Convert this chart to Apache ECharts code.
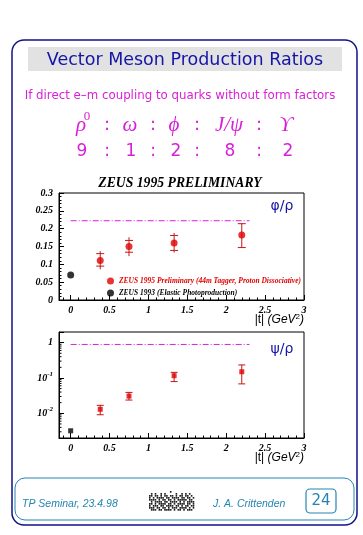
<!DOCTYPE html>
<html><head><meta charset="utf-8">
<script src="https://cdn.jsdelivr.net/npm/echarts@6/dist/echarts.min.js"></script>
<style>html,body{margin:0;padding:0;background:#fff}#c{width:363px;height:535px}</style>
</head><body><div id="c"></div>
<script>
// ---- data ----
const mesons = ['ρ', 'ω', 'ϕ', 'J/ψ', 'ϒ'];
const couplingRatios = [9, 1, 2, 8, 2];
const tValues = [0.38, 0.75, 1.33, 2.2];
const phiRho = [0.111, 0.150, 0.160, 0.182];
const phiRhoStatLo = [0.095, 0.134, 0.139, 0.147];
const phiRhoStatHi = [0.130, 0.167, 0.181, 0.214];
const phiRhoTotLo = [0.086, 0.123, 0.133, 0.147];
const phiRhoTotHi = [0.137, 0.176, 0.188, 0.214];
const t1993 = [0];
const phiRho1993 = [0.070];
const psiRho = [0.0130, 0.0307, 0.116, 0.150];
const psiRhoLo = [0.0091, 0.0237, 0.079, 0.068];
const psiRhoHi = [0.0168, 0.039, 0.144, 0.234];
const psiRho1993 = [0.0032];
const theoryT = [0, 2.3];
const phiRhoTheory = couplingRatios[2] / couplingRatios[0];
const psiRhoTheory = couplingRatios[3] / couplingRatios[0];
const legendNames = ['ZEUS 1995 Preliminary (44m Tagger, Proton Dissociative)', 'ZEUS 1993 (Elastic Photoproduction)'];
// log-axis minor tick multipliers and decades (axis decoration)
const logMinorMult = [2, 3, 4, 5, 6, 7, 8, 9];
const logDecades = [0.001, 0.01, 0.1, 1];

const RED = '#e00000', ERR = '#c01818', MAG = '#d820d8', BLUE = '#1414a8', TEAL = '#2585b0', NAVY = '#12128a';
const axFont = {fontFamily: 'Liberation Serif', fontStyle: 'italic', fontWeight: 'bold', fontSize: 10, color: '#000'};

function errBars(capsOnly) {
  return function (params, api) {
    const x = api.value(0);
    const a = api.coord([x, api.value(1)]), b = api.coord([x, api.value(2)]);
    const c = api.coord([x, api.value(3)]), d = api.coord([x, api.value(4)]);
    const w = capsOnly ? 3.5 : 4;
    const st = {stroke: ERR, lineWidth: 1};
    return {type: 'group', children: [
      {type: 'line', shape: {x1: a[0], y1: a[1], x2: b[0], y2: b[1]}, style: st},
      {type: 'line', shape: {x1: c[0] - w, y1: c[1], x2: c[0] + w, y2: c[1]}, style: st},
      {type: 'line', shape: {x1: d[0] - w, y1: d[1], x2: d[0] + w, y2: d[1]}, style: st}
    ]};
  };
}

function logMinor(params, api) {
  const v = api.value(0);
  if (v <= 0.002 || v >= 2) return null;
  const p = api.coord([-0.15, v]);
  return {type: 'line', shape: {x1: p[0], y1: p[1], x2: p[0] + 2.5, y2: p[1]}, style: {stroke: '#000', lineWidth: 1}};
}

function xAx(gi) {
  return {
    type: 'value', gridIndex: gi, min: -0.15, max: 3,
    axisLine: {show: true, onZero: false, lineStyle: {color: '#000'}},
    axisTick: {show: true, inside: true, length: 5, lineStyle: {color: '#000'}},
    minorTick: {show: true, splitNumber: 5, length: 2.5, lineStyle: {color: '#000'}},
    splitLine: {show: false},
    axisLabel: Object.assign({margin: 5, formatter: v => v < -0.01 ? '' : String(v)}, axFont)
  };
}

const grid1 = {left: 59, top: 193, width: 245, height: 107, show: true, borderColor: '#000', borderWidth: 1};
const grid2 = {left: 59, top: 332, width: 245, height: 106, show: true, borderColor: '#000', borderWidth: 1};

// barcode-like logo pattern
const logoRows = [
  '000000000001000000000000',
  '010100101000001001010100',
  '110110101101101011011010',
  '101011110110111101101101',
  '111101011011010111110110',
  '010111101101111010101111',
  '110101111011010111101101',
  '101110110111101101011011',
  '111011011010111011110101',
  '011101101111010110101110'
];
const logoRects = [];
logoRows.forEach((row, r) => row.split('').forEach((ch, c) => {
  if (ch === '1') logoRects.push({type: 'rect', shape: {x: 149 + c * 1.9, y: 491 + r * 2, width: 1.6, height: 1.7}, style: {fill: '#222'}});
}));

const greekX = [81, 130, 174, 229, 286];
const colonX = [107, 153, 197, 259];
const numX = [82, 131, 176, 230, 288];

const supRich = {
  n: {font: '12px "Liberation Sans"', fill: '#000'},
  i: {font: 'italic 12px "Liberation Sans"', fill: '#000'},
  s: {font: '8px "Liberation Sans"', fill: '#000', verticalAlign: 'top', padding: [0, 0, 6, 0]}
};

const graphics = [
  {type: 'rect', z: -10, shape: {x: 12, y: 40, width: 345, height: 485, r: 12}, style: {fill: '#fff', stroke: NAVY, lineWidth: 1.5}},
  {type: 'rect', z: -5, shape: {x: 28, y: 47, width: 314, height: 24}, style: {fill: '#e2e2e2'}},
  {type: 'text', x: 185, y: 60, style: {text: 'Vector Meson Production Ratios', fill: BLUE, font: '17.5px "DejaVu Sans"', align: 'center', verticalAlign: 'middle'}},
  {type: 'text', x: 180, y: 96, style: {text: 'If direct e–m coupling to quarks without form factors', fill: MAG, font: '11.8px "DejaVu Sans"', align: 'center', verticalAlign: 'middle'}},
  {type: 'text', x: 87, y: 117, style: {text: '0', fill: MAG, font: '13px "Liberation Serif"', align: 'center', verticalAlign: 'middle'}},
  {type: 'text', x: 180, y: 183, style: {text: 'ZEUS 1995 PRELIMINARY', fill: '#000', font: 'italic bold 13.7px "Liberation Serif"', align: 'center', verticalAlign: 'middle'}},
  {type: 'text', x: 282, y: 206, style: {text: 'φ/ρ', fill: BLUE, font: '14px "DejaVu Sans"', align: 'center', verticalAlign: 'middle'}},
  {type: 'text', x: 282, y: 349, style: {text: 'ψ/ρ', fill: BLUE, font: '14px "DejaVu Sans"', align: 'center', verticalAlign: 'middle'}},
  {type: 'text', x: 304, y: 320, style: {text: '{n||t| }{i|(GeV}{s|2}{i|)}', align: 'right', verticalAlign: 'middle', rich: supRich}},
  {type: 'text', x: 304, y: 458, style: {text: '{n||t| }{i|(GeV}{s|2}{i|)}', align: 'right', verticalAlign: 'middle', rich: supRich}},
  {type: 'rect', shape: {x: 15, y: 478, width: 339, height: 42, r: 10}, style: {fill: 'none', stroke: TEAL, lineWidth: 1}},
  {type: 'text', x: 22, y: 504, style: {text: 'TP Seminar, 23.4.98', fill: TEAL, font: 'italic 10.5px "Liberation Sans"', align: 'left', verticalAlign: 'middle'}},
  {type: 'text', x: 213, y: 504, style: {text: 'J. A. Crittenden', fill: TEAL, font: 'italic 10.5px "Liberation Sans"', align: 'left', verticalAlign: 'middle'}},
  {type: 'rect', shape: {x: 306, y: 489, width: 30, height: 24, r: 4}, style: {fill: 'none', stroke: TEAL, lineWidth: 1.2}},
  {type: 'text', x: 321, y: 501, style: {text: '24', fill: TEAL, font: '15px "DejaVu Sans"', align: 'center', verticalAlign: 'middle'}},
  {type: 'group', children: logoRects}
];
mesons.forEach((m, i) => graphics.push({type: 'text', x: greekX[i], y: 125, style: {text: m, fill: MAG, font: 'italic 21px "Liberation Serif"', align: 'center', verticalAlign: 'middle'}}));
couplingRatios.forEach((n, i) => graphics.push({type: 'text', x: numX[i], y: 152, style: {text: String(n), fill: MAG, font: '17px "DejaVu Sans"', align: 'center', verticalAlign: 'middle'}}));
colonX.forEach(x => {
  graphics.push({type: 'text', x: x, y: 125, style: {text: ':', fill: MAG, font: '18px "DejaVu Sans"', align: 'center', verticalAlign: 'middle'}});
  graphics.push({type: 'text', x: x, y: 152, style: {text: ':', fill: MAG, font: '17px "DejaVu Sans"', align: 'center', verticalAlign: 'middle'}});
});

const minorData = [];
logDecades.forEach(d => logMinorMult.forEach(m => minorData.push([d * m])));

const chart = echarts.init(document.getElementById('c'), null, {renderer: 'canvas'});
chart.setOption({
  animation: false,
  backgroundColor: '#fff',
  graphic: graphics,
  grid: [grid1, grid2],
  legend: {
    orient: 'vertical', left: 102, top: 272, itemWidth: 7, itemHeight: 7, itemGap: 4, icon: 'circle',
    selectedMode: false,
    textStyle: {fontFamily: 'Liberation Serif', fontStyle: 'italic', fontWeight: 'bold', fontSize: 7.5},
    data: [{name: legendNames[0], textStyle: {color: RED}}, {name: legendNames[1], textStyle: {color: '#000'}}]
  },
  xAxis: [xAx(0), xAx(1)],
  yAxis: [
    {type: 'value', gridIndex: 0, min: 0, max: 0.3, interval: 0.05,
      axisLine: {show: true, onZero: false, lineStyle: {color: '#000'}},
      axisTick: {show: true, inside: true, length: 5, lineStyle: {color: '#000'}},
      minorTick: {show: true, splitNumber: 5, length: 2.5, lineStyle: {color: '#000'}},
      splitLine: {show: false},
      axisLabel: Object.assign({margin: 6}, axFont)},
    {type: 'log', gridIndex: 1, min: 0.002, max: 2, logBase: 10,
      axisLine: {show: true, onZero: false, lineStyle: {color: '#000'}},
      axisTick: {show: true, inside: true, length: 5, lineStyle: {color: '#000'}},
      splitLine: {show: false},
      axisLabel: Object.assign({margin: 6, formatter: v => {
        const l = Math.log10(v), r = Math.round(l);
        if (Math.abs(l - r) > 1e-6) return '';
        if (r === 0) return '1';
        return '{b|10}{s|' + r + '}';
      }, rich: {
        b: {fontFamily: 'Liberation Serif', fontStyle: 'italic', fontWeight: 'bold', fontSize: 10, color: '#000'},
        s: {fontFamily: 'Liberation Serif', fontStyle: 'italic', fontWeight: 'bold', fontSize: 7, color: '#000', padding: [0, 0, 8, 0]}
      }}, axFont)}
  ],
  series: [
    {type: 'line', xAxisIndex: 0, yAxisIndex: 0, symbol: 'none', silent: true,
      lineStyle: {color: MAG, width: 1, type: [6, 2, 1, 2]},
      data: theoryT.map(t => [t, phiRhoTheory])},
    {type: 'custom', xAxisIndex: 0, yAxisIndex: 0, renderItem: errBars(false),
      data: tValues.map((t, i) => [t, phiRhoTotLo[i], phiRhoTotHi[i], phiRhoStatLo[i], phiRhoStatHi[i]])},
    {type: 'scatter', name: legendNames[0], xAxisIndex: 0, yAxisIndex: 0, symbol: 'circle', symbolSize: 7,
      itemStyle: {color: RED}, data: tValues.map((t, i) => [t, phiRho[i]])},
    {type: 'scatter', name: legendNames[1], xAxisIndex: 0, yAxisIndex: 0, symbol: 'circle', symbolSize: 7,
      itemStyle: {color: '#000'}, data: t1993.map((t, i) => [t, phiRho1993[i]])},

    {type: 'line', xAxisIndex: 1, yAxisIndex: 1, symbol: 'none', silent: true,
      lineStyle: {color: MAG, width: 1, type: [6, 2, 1, 2]},
      data: theoryT.map(t => [t, psiRhoTheory])},
    {type: 'custom', xAxisIndex: 1, yAxisIndex: 1, silent: true, renderItem: logMinor,
      encode: {x: -1, y: 0}, data: minorData.map(d => [d[0]])},
    {type: 'custom', xAxisIndex: 1, yAxisIndex: 1, renderItem: errBars(true),
      data: tValues.map((t, i) => [t, psiRhoLo[i], psiRhoHi[i], psiRhoLo[i], psiRhoHi[i]])},
    {type: 'scatter', name: legendNames[0], xAxisIndex: 1, yAxisIndex: 1, symbol: 'rect', symbolSize: 5,
      itemStyle: {color: RED}, data: tValues.map((t, i) => [t, psiRho[i]])},
    {type: 'scatter', name: legendNames[1], xAxisIndex: 1, yAxisIndex: 1, symbol: 'rect', symbolSize: 5,
      itemStyle: {color: '#000'}, data: t1993.map((t, i) => [t, psiRho1993[i]])}
  ]
});
</script></body></html>
